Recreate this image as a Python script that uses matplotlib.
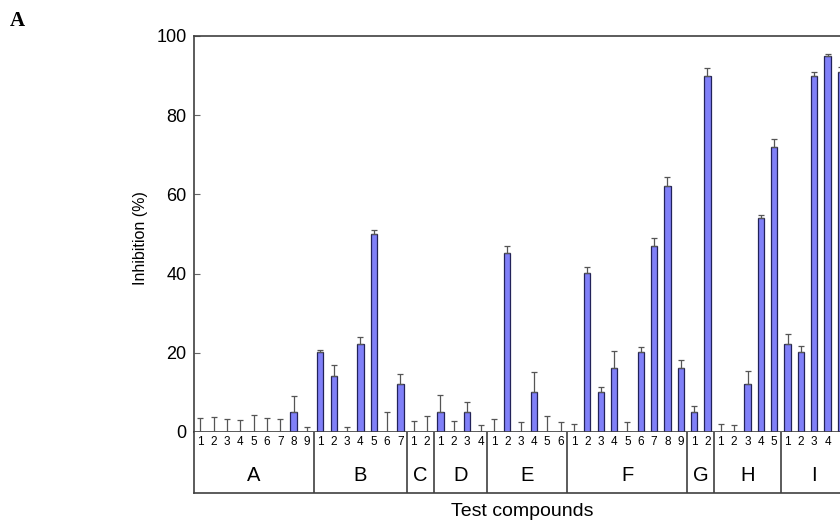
import numpy as np
import matplotlib
matplotlib.use('Agg')
import matplotlib.pyplot as plt

plt.rcParams['font.family'] = ['Liberation Sans', 'DejaVu Sans']

groups = ['A', 'B', 'C', 'D', 'E', 'F', 'G', 'H', 'I']
values = [
    [0, 0, 0, 0, 0, 0, 0, 5.1, 0],
    [20.1, 14.2, 0, 22.1, 50.0, 0, 12.2],
    [0, 0],
    [5.1, 0, 5.1, 0],
    [0, 45.1, 0, 10.1, 0, 0],
    [0, 40.1, 10.2, 16.1, 0, 20.1, 47.0, 62.0, 16.1],
    [5.1, 90.0],
    [0, 0, 12.1, 54.1, 71.9],
    [22.1, 20.1, 90.0, 94.9, 91.0],
]
errors = [
    [3.5, 3.9, 3.2, 3.1, 4.3, 3.6, 3.3, 4.0, 1.3],
    [0.7, 2.7, 1.2, 1.8, 0.9, 5.0, 2.4],
    [2.8, 4.0],
    [4.3, 2.9, 2.6, 1.8],
    [3.4, 1.9, 2.6, 5.1, 4.1, 2.6],
    [2.1, 1.5, 1.1, 4.4, 2.4, 1.4, 2.0, 2.5, 2.0],
    [1.5, 1.8],
    [2.1, 1.8, 3.4, 0.8, 2.1],
    [2.7, 1.7, 0.8, 0.6, 1.2],
]
yticks = [0, 20, 40, 60, 80, 100]

vals = np.concatenate(values)
errs = np.concatenate(errors)
sizes = [len(v) for v in values]
bounds = np.concatenate([[0], np.cumsum(sizes)])
n = len(vals)
x = np.arange(n) + 0.5

W, H = 840, 523
slot = 13.35


def box(x0, y0, x1, y1):
    return [x0 / W, 1 - y1 / H, (x1 - x0) / W, (y1 - y0) / H]


fig = plt.figure(figsize=(W / 100, H / 100), dpi=100)
x_right = 193.5 + n * slot
ax = fig.add_axes(box(193.5, 36, x_right, 432))
tab = fig.add_axes(box(193.5, 432, x_right, 493), sharex=ax)

edge = '#404040'
ax.bar(x, vals, width=0.47, color='#8080f8', edgecolor='#22225a', linewidth=0.9, zorder=2)
ax.errorbar(x, vals, yerr=[np.zeros(n), errs], fmt='none', ecolor='#555555',
            elinewidth=0.9, capsize=2.3, capthick=0.9, zorder=3)

ax.set_xlim(0, n)
ax.set_ylim(0, 100)
ax.set_yticks(yticks)
ax.tick_params(axis='y', direction='in', length=4.5, color='#666666', pad=5, labelsize=13)
ax.tick_params(axis='x', bottom=False, labelbottom=False)
for s in ['left', 'top', 'bottom']:
    ax.spines[s].set_color(edge)
    ax.spines[s].set_linewidth(1.2)
ax.spines['right'].set_visible(False)

# table of compound numbers and groups under the axis
tab.set_ylim(0, 1)
tab.set_yticks([])
tab.tick_params(axis='x', bottom=False, labelbottom=False)
tab.spines['top'].set_visible(False)
tab.spines['right'].set_visible(False)
for s in ['left', 'bottom']:
    tab.spines[s].set_color(edge)
    tab.spines[s].set_linewidth(1.2)
for b in bounds[1:-1]:
    tab.axvline(b, color=edge, linewidth=1.2)
for g, name in enumerate(groups):
    for k in range(sizes[g]):
        pos = bounds[g] + k + 0.5
        # the figure is cropped on the right, numbers past the edge are not shown
        if 193.5 + pos * slot + 4 > W:
            continue
        tab.text(pos, 0.83, str(k + 1), ha='center', va='center', fontsize=8.5)
    tab.text((bounds[g] + bounds[g + 1]) / 2, 0.29, name, ha='center', va='center', fontsize=14.5)

fig.text(522 / W, 1 - 511 / H, 'Test compounds', ha='center', va='center', fontsize=14)
fig.text(140 / W, 1 - 238 / H, 'Inhibition (%)', ha='center', va='center', rotation=90, fontsize=11.5)
fig.text(10 / W, 1 - 21 / H, 'A', family='Liberation Serif', weight='bold', fontsize=15, va='center')

fig.savefig('out.png', dpi=100)
